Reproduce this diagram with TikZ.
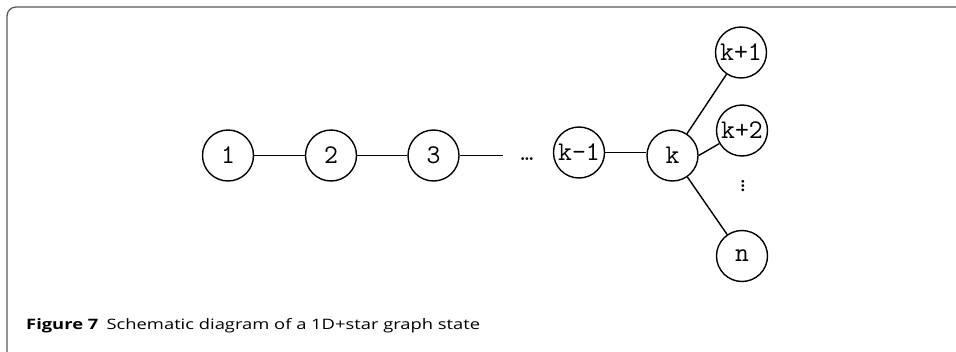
\documentclass[tikz,border=0pt]{standalone}
\usepackage{fontspec}
\setmainfont{Open Sans}
\usetikzlibrary{calc}
\tikzset{
  qubit/.style={circle, draw=black, line width=1.4pt, minimum size=51pt, inner sep=0pt, font=\ttfamily\fontsize{27}{27}\selectfont},
  monotext/.style={font=\ttfamily\fontsize{25}{25}\selectfont, inner sep=0pt},
  edge/.style={line width=1.4pt, black},
  framebox/.style={draw=black!65, line width=1.3pt, rounded corners=9pt}
}
\begin{document}
\begin{tikzpicture}[x=1pt,y=-1pt]
\useasboundingbox (0,0) rectangle (956,351);
\clip (0,0) rectangle (956,351);
\draw[framebox] (7,7) rectangle (985,362);
\node[qubit] (n1) at (228,155.5) {1};
\node[qubit] (n2) at (331,155.5) {2};
\node[qubit] (n3) at (433.5,155.5) {3};
\coordinate (free) at (503,155.5);
\node[monotext, anchor=base] (dots) at (527,160) {…};
\node[qubit] (km1) at (579,152.5) {k-1};
\node[qubit] (k) at (672.5,155.5) {k};
\node[qubit] (kp1) at (741,52.5) {k+1};
\node[qubit] (kp2) at (742,130.5) {k+2};
\node[monotext, rotate=90] (vd) at (743,186.5) {…};
\node[qubit] (nn) at (742,256) {n};
\draw[edge] (n1) -- (n2);
\draw[edge] (n2) -- (n3);
\draw[edge] (n3) -- (free);
\draw[edge] (km1.east) -- (km1.east -| k.west);
\draw[edge] (k) -- (kp1);
\draw[edge] (k.east) -- (kp2);
\draw[edge] (k) -- (nn);
\node[anchor=base west, inner sep=0pt] (cap) at (26,329.5) {\resizebox{454pt}{11pt}{\textbf{Figure 7}\hspace{0.45em}Schematic diagram of a 1D+star graph state}};
\end{tikzpicture}
\end{document}
